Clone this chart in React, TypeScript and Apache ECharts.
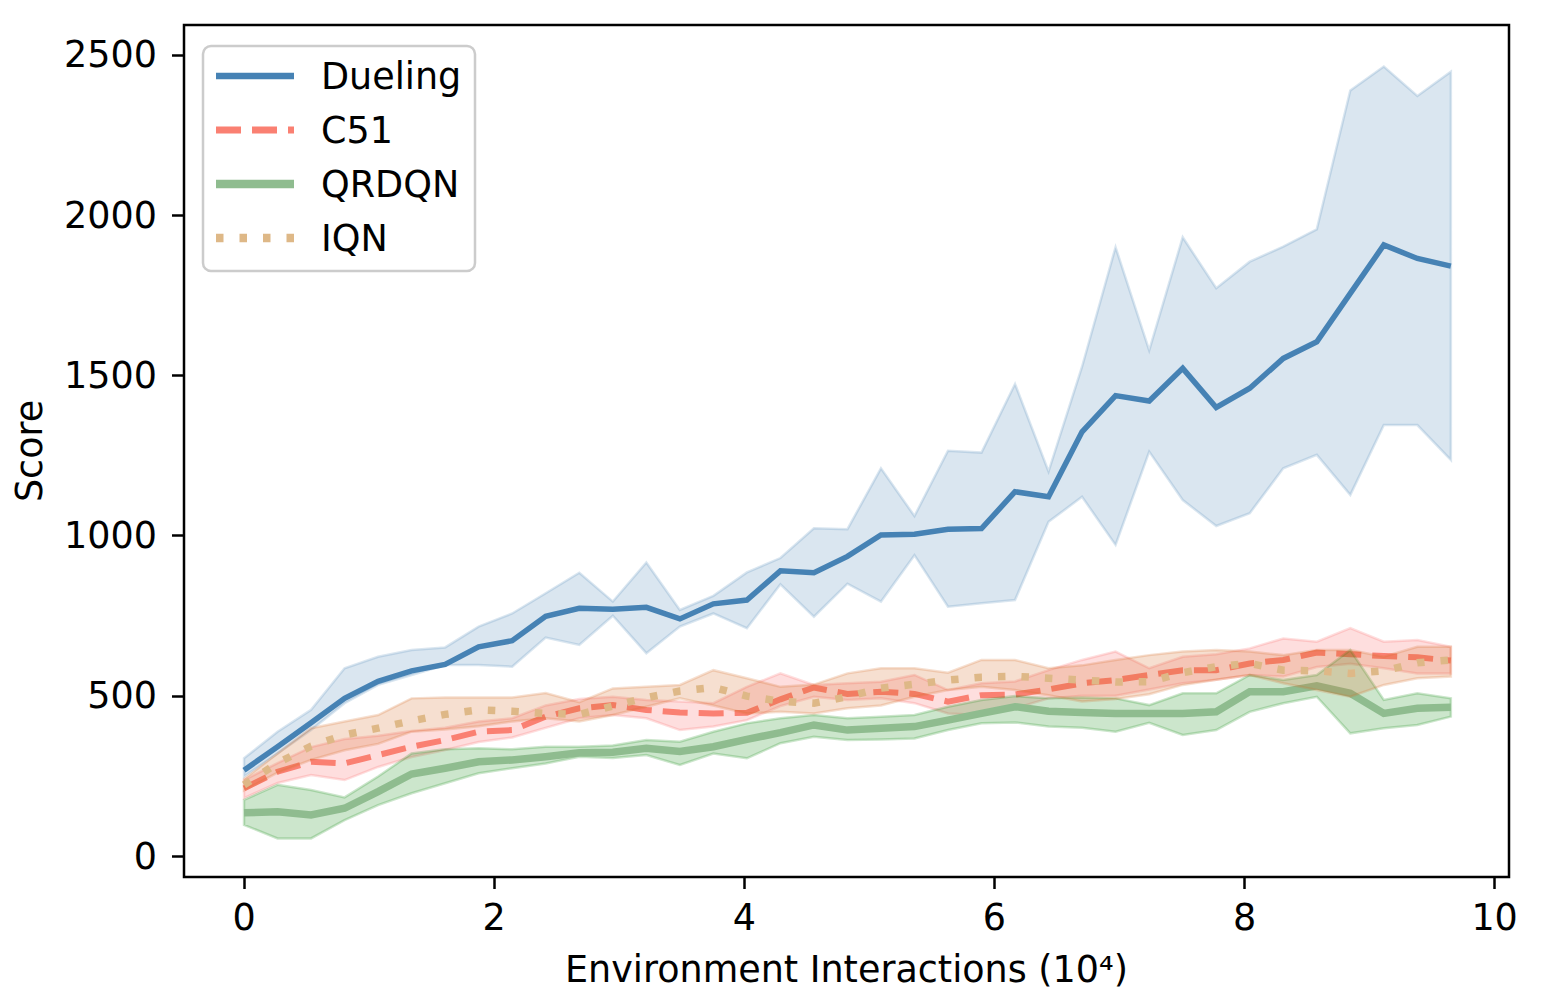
import React, { useEffect, useRef } from "react";
import * as echarts from "echarts";

const X = [0, 0.268, 0.536, 0.804, 1.072, 1.34, 1.608, 1.876, 2.144, 2.412, 2.681, 2.949, 3.217, 3.485, 3.753, 4.021, 4.289, 4.557, 4.825, 5.093, 5.361, 5.629, 5.897, 6.165, 6.433, 6.701, 6.969, 7.238, 7.506, 7.774, 8.042, 8.31, 8.578, 8.846, 9.114, 9.382, 9.65];

const X_TICKS = [0, 2, 4, 6, 8, 10];
const Y_TICKS = [0, 500, 1000, 1500, 2000, 2500];

const duelingMean = [268, 341, 416, 492, 545, 578, 598, 653, 672, 748, 773, 770, 776, 740, 787, 799, 890, 884, 935, 1002, 1004, 1020, 1022, 1137, 1121, 1324, 1437, 1420, 1522, 1400, 1460, 1553, 1605, 1756, 1907, 1865, 1841];
const duelingUpper = [305, 388, 456, 586, 622, 643, 651, 716, 757, 820, 884, 794, 916, 768, 812, 885, 930, 1023, 1020, 1210, 1061, 1265, 1259, 1473, 1200, 1527, 1900, 1578, 1931, 1772, 1855, 1902, 1956, 2389, 2464, 2372, 2448];
const duelingLower = [248, 320, 393, 477, 534, 565, 596, 596, 591, 682, 659, 750, 633, 716, 757, 711, 848, 747, 850, 794, 939, 778, 789, 799, 1043, 1121, 971, 1262, 1111, 1030, 1070, 1210, 1252, 1127, 1345, 1345, 1236];

const c51Mean = [211, 263, 294, 289, 315, 341, 362, 388, 393, 435, 461, 471, 456, 448, 445, 447, 489, 526, 506, 513, 506, 482, 502, 504, 520, 539, 549, 565, 580, 580, 601, 612, 635, 630, 624, 620, 610];
const c51Upper = [237, 290, 340, 365, 375, 390, 400, 420, 430, 470, 490, 497, 487, 482, 477, 528, 570, 534, 539, 544, 565, 518, 539, 545, 580, 612, 638, 586, 622, 630, 648, 679, 669, 711, 669, 674, 653];
const c51Lower = [181, 228, 253, 237, 278, 309, 331, 356, 370, 400, 430, 440, 430, 393, 404, 424, 468, 497, 487, 492, 477, 445, 440, 461, 492, 500, 500, 520, 539, 550, 565, 560, 590, 600, 586, 570, 570];

const qrdqnMean = [135, 138, 128, 149, 201, 256, 274, 294, 300, 310, 322, 324, 336, 326, 341, 364, 385, 409, 393, 399, 404, 424, 445, 466, 452, 448, 445, 445, 445, 450, 513, 513, 531, 508, 445, 461, 464];
const qrdqnUpper = [175, 222, 206, 183, 248, 320, 333, 336, 333, 341, 341, 345, 362, 357, 388, 414, 430, 440, 430, 435, 440, 466, 487, 499, 492, 495, 492, 471, 508, 508, 565, 549, 565, 643, 487, 508, 492];
const qrdqnLower = [97, 55, 55, 112, 159, 196, 227, 258, 274, 289, 310, 306, 315, 284, 320, 305, 352, 372, 362, 364, 367, 393, 414, 417, 404, 400, 388, 416, 378, 393, 450, 477, 497, 383, 399, 409, 435];

const iqnMean = [222, 290, 343, 378, 399, 422, 442, 456, 452, 445, 442, 468, 494, 515, 526, 499, 483, 477, 497, 524, 536, 549, 558, 561, 555, 549, 543, 544, 572, 591, 601, 580, 578, 570, 578, 603, 612];
const iqnUpper = [240, 320, 399, 420, 440, 492, 495, 495, 495, 509, 480, 523, 528, 534, 580, 555, 528, 535, 570, 586, 586, 572, 612, 612, 586, 595, 612, 627, 638, 643, 638, 627, 643, 643, 622, 653, 653];
const iqnLower = [205, 260, 300, 330, 350, 388, 395, 405, 420, 430, 420, 440, 466, 492, 470, 445, 450, 445, 461, 470, 497, 518, 528, 518, 502, 482, 490, 505, 534, 550, 565, 539, 518, 497, 534, 555, 560];

const FONT = "DejaVu Sans";
const FS = 36.5;

const METHODS = [
  { name: "Dueling", mean: duelingMean, upper: duelingUpper, lower: duelingLower, color: "#4682b4", band: "rgba(70,130,180,0.2)", width: 5.5, dash: null as number[] | null },
  { name: "C51", mean: c51Mean, upper: c51Upper, lower: c51Lower, color: "#fa8072", band: "rgba(250,90,90,0.2)", width: 6, dash: [25, 11] },
  { name: "QRDQN", mean: qrdqnMean, upper: qrdqnUpper, lower: qrdqnLower, color: "#8fbc8f", band: "rgba(0,128,0,0.2)", width: 7.5, dash: null },
  { name: "IQN", mean: iqnMean, upper: iqnUpper, lower: iqnLower, color: "#deb887", band: "rgba(215,110,40,0.22)", width: 7.5, dash: [7.5, 16] },
];

export default function App() {
  const ref = useRef<HTMLDivElement>(null);
  useEffect(() => {
    if (!ref.current) return;
    const chart = echarts.init(ref.current, null, { renderer: "svg" });
    const series: any[] = [];
    let z = 2;
    METHODS.forEach((m) => {
      series.push({
        type: "custom",
        name: m.name + " band",
        silent: true,
        z: z++,
        clip: true,
        data: X.map((x, i) => [x, m.lower[i], m.upper[i]]),
        encode: { x: 0, y: [1, 2] },
        renderItem: (params: any, api: any) => {
          if (params.dataIndex !== 0) return null;
          const top = X.map((x, i) => api.coord([x, m.upper[i]]));
          const bot = X.map((x, i) => api.coord([x, m.lower[i]])).reverse();
          return {
            type: "polygon",
            shape: { points: top.concat(bot) },
            style: { fill: m.band, stroke: m.band, lineWidth: 2.5 },
          };
        },
      });
      series.push({
        type: "line",
        name: m.name,
        z: z++,
        showSymbol: false,
        symbol: "none",
        silent: true,
        data: X.map((x, i) => [x, m.mean[i]]),
        lineStyle: {
          color: m.color,
          width: m.width,
          type: m.dash ? m.dash : "solid",
          cap: "butt",
          join: "miter",
        },
      });
    });

    const legendRows = [76, 130, 184, 238];
    const legendEls: any[] = [
      {
        type: "rect",
        shape: { x: 203, y: 46, width: 272, height: 225, r: 8 },
        style: { fill: "rgba(255,255,255,0.8)", stroke: "#cccccc", lineWidth: 2.5 },
        z: 100,
      },
    ];
    METHODS.forEach((m, k) => {
      legendEls.push({
        type: "line",
        shape: { x1: 216, y1: legendRows[k], x2: 294, y2: legendRows[k] },
        style: {
          stroke: m.color,
          lineWidth: m.width + 1,
          lineDash: m.dash ? m.dash : null,
          lineCap: "butt",
        },
        z: 101,
      });
      legendEls.push({
        type: "text",
        x: 321,
        y: legendRows[k],
        style: {
          text: m.name,
          fontSize: FS,
          fontFamily: FONT,
          fill: "#000",
          verticalAlign: "middle",
          align: "left",
        },
        z: 101,
      });
    });

    chart.setOption({
      animation: false,
      backgroundColor: "#fff",
      grid: {
        left: 184,
        top: 25,
        width: 1325,
        height: 852,
        show: true,
        borderColor: "#000",
        borderWidth: 2.5,
        backgroundColor: "transparent",
        containLabel: false,
      },
      xAxis: {
        type: "value",
        min: -0.48,
        max: 10.115,
        name: "Environment Interactions (10⁴)",
        nameLocation: "middle",
        nameGap: 74,
        nameTextStyle: { fontSize: FS, color: "#000", fontFamily: FONT },
        axisLine: { show: false, onZero: false },
        splitLine: { show: false },
        axisTick: { show: true, length: 12, lineStyle: { color: "#000", width: 2.5 }, customValues: X_TICKS },
        axisLabel: {
          customValues: X_TICKS,
          fontSize: FS,
          color: "#000",
          fontFamily: FONT,
          margin: 22,
          formatter: (v: number) => String(v),
        },
      },
      yAxis: {
        type: "value",
        min: -65.5,
        max: 2593.6,
        name: "Score",
        nameLocation: "middle",
        nameGap: 136,
        nameTextStyle: { fontSize: FS, color: "#000", fontFamily: FONT },
        axisLine: { show: false, onZero: false },
        splitLine: { show: false },
        axisTick: { show: true, length: 12, lineStyle: { color: "#000", width: 2.5 }, customValues: Y_TICKS },
        axisLabel: {
          customValues: Y_TICKS,
          fontSize: FS,
          color: "#000",
          fontFamily: FONT,
          margin: 27,
          formatter: (v: number) => String(v),
        },
      },
      series,
      graphic: legendEls,
    });
    return () => chart.dispose();
  }, []);
  return (
    <div
      ref={ref}
      style={{ position: "absolute", left: 0, top: 0, width: 1543, height: 1003, background: "#fff" }}
    />
  );
}
